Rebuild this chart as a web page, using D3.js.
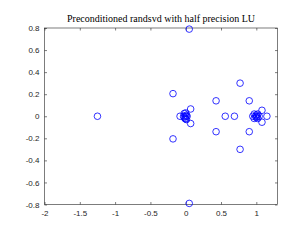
<!DOCTYPE html>
<html>
<head>
<meta charset="utf-8">
<script src="https://cdn.jsdelivr.net/npm/d3@7"></script>
<style>
  body { margin: 0; background: #fff; }
  svg { display: block; }
</style>
</head>
<body>
<svg id="chart"></svg>
<script>
const re = [0.05, 0.05, -1.25, -0.18, -0.18, 0.07, 0.07, 0.43, 0.43, 0.56, 0.69,
            0.77, 0.77, 0.90, 0.90, 1.08, 1.08, 1.15, -0.08,
            -0.03, -0.02, -0.01, 0.0, 0.01, 0.02, 0.0, -0.02, 0.01, 0.0,
            0.95, 0.97, 0.97, 0.99, 1.0, 1.0, 1.02, 1.02, 1.04, 1.01];
const im = [0.79, -0.79, 0, 0.205, -0.205, 0.066, -0.066, 0.14, -0.14, 0, 0,
            0.30, -0.30, 0.14, -0.14, 0.054, -0.054, 0, 0,
            0.0, 0.025, -0.02, 0.03, 0.01, 0.0, -0.025, -0.01, -0.03, 0.0,
            0, 0.02, -0.02, 0, 0.012, -0.012, 0.02, -0.02, 0, 0];
const xTicks = [-2, -1.5, -1, -0.5, 0, 0.5, 1];
const yTicks = [-0.8, -0.6, -0.4, -0.2, 0, 0.2, 0.4, 0.6, 0.8];
const title = "Preconditioned randsvd with half precision LU";

const width = 292, height = 240;
const margin = {top: 28, right: 14.5, bottom: 35.5, left: 44.5};

const svg = d3.select("#chart").attr("width", width).attr("height", height);

const x = d3.scaleLinear().domain([-2, 1.3]).range([margin.left, width - margin.right]);
const y = d3.scaleLinear().domain([-0.8, 0.8]).range([height - margin.bottom, margin.top]);

const axisColor = "#262626";
const tickLen = 2.5;

// axes box
svg.append("rect")
    .attr("x", x(-2)).attr("y", y(0.8))
    .attr("width", x(1.3) - x(-2)).attr("height", y(-0.8) - y(0.8))
    .attr("fill", "none").attr("stroke", axisColor).attr("stroke-width", 0.6);

const fmt = d => d3.format("")(d).replace("−", "-");

// bottom / top ticks
const xAxisB = g => g.attr("transform", `translate(0,${y(-0.8)})`)
    .call(d3.axisBottom(x).tickValues(xTicks).tickSize(-tickLen).tickPadding(6).tickFormat(fmt))
    .call(g => g.select(".domain").remove());
const xAxisT = g => g.attr("transform", `translate(0,${y(0.8)})`)
    .call(d3.axisTop(x).tickValues(xTicks).tickSize(-tickLen).tickFormat(""))
    .call(g => g.select(".domain").remove());
const yAxisL = g => g.attr("transform", `translate(${x(-2)},0)`)
    .call(d3.axisLeft(y).tickValues(yTicks).tickSize(-tickLen).tickPadding(5).tickFormat(fmt))
    .call(g => g.select(".domain").remove());
const yAxisR = g => g.attr("transform", `translate(${x(1.3)},0)`)
    .call(d3.axisRight(y).tickValues(yTicks).tickSize(-tickLen).tickFormat(""))
    .call(g => g.select(".domain").remove());

[xAxisB, xAxisT, yAxisL, yAxisR].forEach(ax => {
    svg.append("g").call(ax)
        .call(g => g.selectAll("line").attr("stroke", axisColor).attr("stroke-width", 0.6))
        .call(g => g.selectAll("text")
            .attr("fill", axisColor)
            .style("font", "8px 'Liberation Sans', Arial, sans-serif"));
});

// markers
svg.append("g")
    .selectAll("circle")
    .data(re.map((r, i) => ({r, i: im[i]})))
    .enter().append("circle")
        .attr("cx", d => x(d.r))
        .attr("cy", d => y(d.i))
        .attr("r", 3.3)
        .attr("fill", "none")
        .attr("stroke", "#0000ff")
        .attr("stroke-width", 0.8);

// title
svg.append("text")
    .attr("x", (x(-2) + x(1.3)) / 2)
    .attr("y", 22)
    .attr("text-anchor", "middle")
    .attr("fill", "#000")
    .style("font", "10px 'Liberation Serif', 'Times New Roman', serif")
    .text(title);
</script>
</body>
</html>
